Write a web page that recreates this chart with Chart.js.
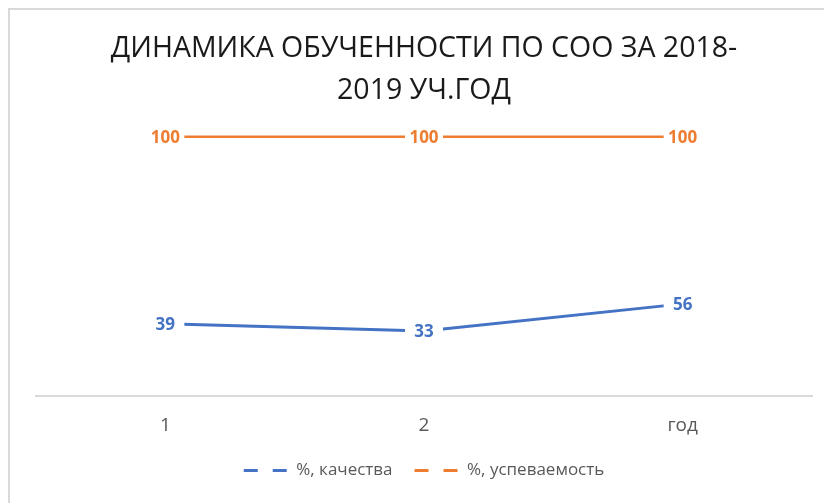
<!DOCTYPE html>
<html>
<head>
<meta charset="utf-8">
<script src="https://cdn.jsdelivr.net/npm/chart.js@4"></script>
<style>
  body { margin: 0; background: #fff; }
  #frame { position: absolute; left: 8px; top: 8px; width: 900px; height: 600px;
           border-left: 2px solid #d9d9d9; border-top: 2px solid #d9d9d9; }
  #wrap { position: absolute; left: 0; top: 0; width: 824px; height: 503px; }
</style>
</head>
<body>
<div id="frame"></div>
<div id="wrap"><canvas id="chart"></canvas></div>
<script>
const categories = ["1", "2", "год"];
const quality = [39, 33, 56];
const progress = [100, 100, 100];
const seriesNames = ["%, качества", "%, успеваемость"];
const titleLines = ["ДИНАМИКА ОБУЧЕННОСТИ ПО СОО ЗА 2018-", "2019 УЧ.ГОД"];

const BLUE = "#4472c4";
const ORANGE = "#ed7d31";

// value labels sitting on the points, with a white box that cuts the line
const pointLabels = {
  id: "pointLabels",
  afterDatasetsDraw(chart) {
    const ctx = chart.ctx;
    ctx.save();
    ctx.font = "bold 17px 'Open Sans'";
    ctx.textAlign = "center";
    ctx.textBaseline = "middle";
    chart.data.datasets.forEach((ds, i) => {
      const meta = chart.getDatasetMeta(i);
      meta.data.forEach((pt, j) => {
        const txt = String(ds.data[j]);
        const w = Math.max(ctx.measureText(txt).width + 4, 38);
        ctx.fillStyle = "#fff";
        ctx.fillRect(pt.x - w / 2, pt.y - 10, w, 20);
        ctx.fillStyle = ds.borderColor;
        ctx.fillText(txt, pt.x, pt.y + 1);
      });
    });
    ctx.restore();
  }
};

new Chart(document.getElementById("chart"), {
  type: "line",
  data: {
    labels: categories,
    datasets: [
      { label: seriesNames[0], data: quality, borderColor: BLUE, backgroundColor: BLUE,
        borderWidth: 3, pointRadius: 0, tension: 0, yAxisID: "y" },
      { label: seriesNames[1], data: progress, borderColor: ORANGE, backgroundColor: ORANGE,
        borderWidth: 2.5, pointRadius: 0, tension: 0, yAxisID: "y1" }
    ]
  },
  options: {
    responsive: true,
    maintainAspectRatio: false,
    animation: false,
    layout: { padding: { left: 36, right: 12, top: 0, bottom: 14 } },
    plugins: {
      title: {
        display: true,
        text: titleLines,
        color: "#1a1a1a",
        font: { family: "'Open Sans'", size: 28.5, weight: "normal", lineHeight: 1.5 },
        padding: { top: 27, bottom: 10 }
      },
      legend: {
        position: "bottom",
        labels: {
          color: "#595959",
          font: { family: "'Open Sans'", size: 17 },
          usePointStyle: true,
          pointStyleWidth: 44,
          boxHeight: 16,
          padding: 22,
          generateLabels(chart) {
            return chart.data.datasets.map((ds, i) => ({
              text: ds.label,
              pointStyle: "line",
              fillStyle: ds.borderColor,
              strokeStyle: ds.borderColor,
              lineWidth: 3,
              lineDash: [14, 15],
              fontColor: "#595959",
              datasetIndex: i
            }));
          }
        }
      },
      tooltip: { enabled: false }
    },
    scales: {
      x: {
        offset: true,
        grid: { display: false, drawTicks: false },
        border: { display: true, color: "#d9d9d9", width: 2 },
        ticks: { color: "#595959", padding: 18,
                 font: { family: "'Open Sans'", size: 19 } },
        afterFit(scale) { scale.height -= 15; }
      },
      y: { display: false, min: -22.5, max: 210.2 },
      y1: { display: false, min: 0, max: 105.5 }
    }
  },
  plugins: [pointLabels]
});
</script>
</body>
</html>
